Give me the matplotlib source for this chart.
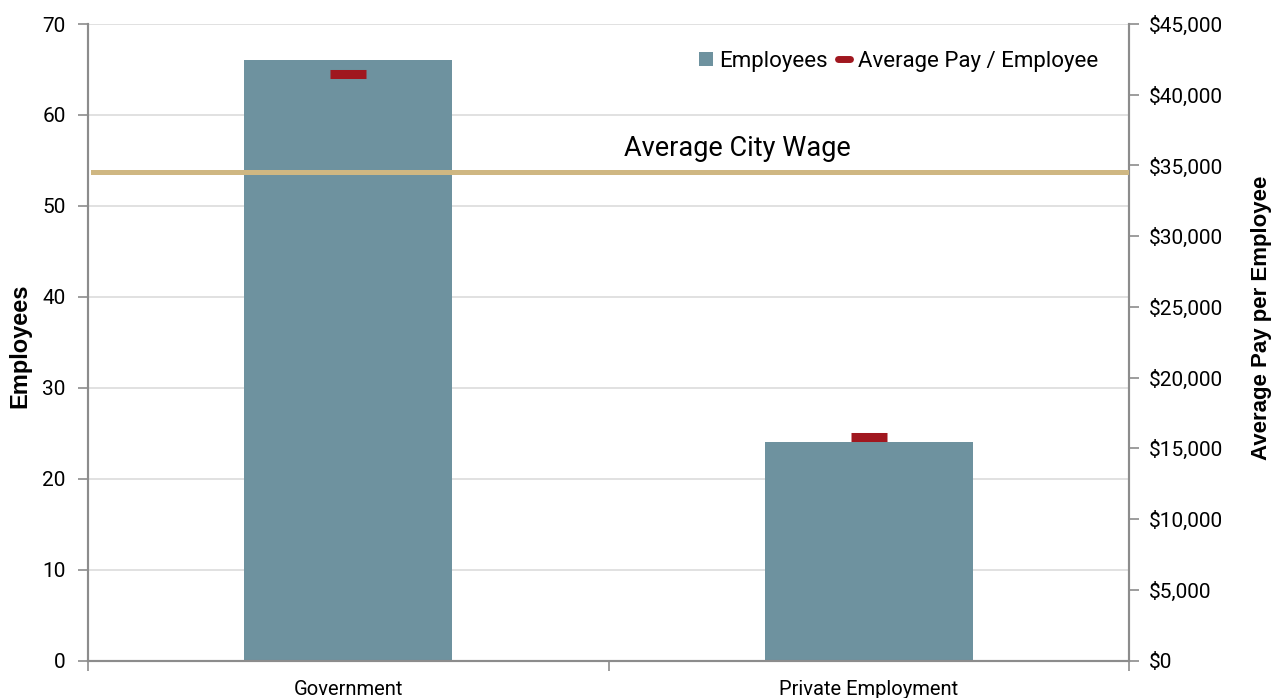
import matplotlib
matplotlib.use("Agg")
import matplotlib.pyplot as plt
from matplotlib.markers import MarkerStyle
from matplotlib.lines import Line2D
from matplotlib.ticker import FuncFormatter, MultipleLocator, FixedLocator

categories = ["Government", "Private Employment"]
employees = [66, 24]
avg_pay = [41450, 15800]
city_wage = 34560
city_wage_label = "Average City Wage"
legend_labels = ["Employees", "Average Pay / Employee"]

plt.rcParams['font.family'] = ['Roboto', 'DejaVu Sans']

BAR = "#6E929F"
RED = "#A0171F"
GOLD = "#CFB782"
GRID = "#D9D9D9"
SPINE = "#8C8C8C"

W, H = 1281, 698
fig = plt.figure(figsize=(W / 100, H / 100), dpi=100)
ax = fig.add_axes([88 / W, 37.5 / H, (1129 - 88) / W, (660.5 - 24) / H])
ax2 = ax.twinx()

x = list(range(len(categories)))
ax.bar(x, employees, width=0.4, color=BAR, zorder=2)
ax.set_xlim(-0.5, 1.5)
ax.set_ylim(0, 70)
ax.yaxis.set_major_locator(MultipleLocator(10))
ax.grid(axis='y', color=GRID, linewidth=1.1, zorder=0)
ax.set_axisbelow(True)

ax2.set_ylim(0, 45000)
ax2.yaxis.set_major_locator(MultipleLocator(5000))
ax2.yaxis.set_major_formatter(FuncFormatter(lambda v, p: "${:,.0f}".format(v)))
ax2.axhline(city_wage, xmin=0.005, xmax=1, color=GOLD, linewidth=3.6, zorder=3)
ax2.plot(x, avg_pay, linestyle='none', marker=MarkerStyle('_', capstyle='butt'),
         markersize=25.5, markeredgewidth=6.5, color=RED, zorder=4)
ax2.text(0.624, city_wage + 1110, city_wage_label, ha='center', va='baseline',
         fontsize=19.5, color='black', zorder=5,
         transform=ax2.get_yaxis_transform())

# x ticks: labels at centers, tick marks at category boundaries
ax.set_xticks(x)
ax.set_xticklabels(categories, fontsize=14.5)
ax.tick_params(axis='x', length=0, pad=14)
ax.xaxis.set_minor_locator(FixedLocator([-0.5, 0.5, 1.5]))
ax.tick_params(axis='x', which='minor', length=7, color=SPINE, width=1.2)

ax.tick_params(axis='y', length=7, color=SPINE, width=1.2, labelsize=15, pad=9)
ax2.tick_params(axis='y', length=7, color=SPINE, width=1.2, labelsize=15, pad=7)

for a in (ax, ax2):
    a.spines['top'].set_visible(False)
    for s in ('left', 'right', 'bottom'):
        a.spines[s].set_color(SPINE)
        a.spines[s].set_linewidth(1.5)

lab_family = ['Liberation Sans', 'DejaVu Sans']
ax.set_ylabel("Employees", fontsize=17, fontweight='bold', family=lab_family)
ax2.set_ylabel("Average Pay per Employee", fontsize=16, fontweight='bold',
               family=lab_family)
ax.yaxis.set_label_coords((31 - 88) / (1129 - 88), 0.495)
ax2.yaxis.set_label_coords((1251 - 88) / (1129 - 88), (660.5 - 318) / 636.5)

h_bar = Line2D([], [], linestyle='none', marker='s', markersize=10,
               markeredgewidth=0, color=BAR)
h_pay = Line2D([], [], linestyle='none', marker=MarkerStyle('_', capstyle='round'),
               markersize=9, markeredgewidth=5, color=RED)
leg = ax2.legend([h_bar, h_pay], legend_labels, loc='center right', ncol=2,
                 frameon=False, fontsize=16,
                 bbox_to_anchor=((1098 - 88) / (1129 - 88), (660.5 - 61) / 636.5),
                 borderaxespad=0, borderpad=0, numpoints=1,
                 handlelength=0.8, handletextpad=0.2, columnspacing=0.35)

fig.savefig("out.png", dpi=100)
